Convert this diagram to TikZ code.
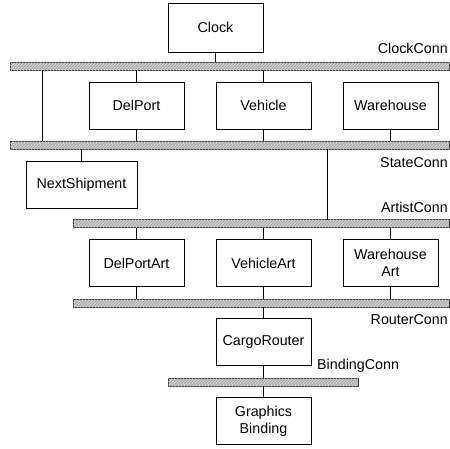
\documentclass[tikz,border=0pt]{standalone}
\usepackage{fontspec}
\setmainfont{Liberation Sans}
\usetikzlibrary{patterns}
\begin{document}
\begin{tikzpicture}[x=1pt,y=-1pt,
  comp/.style={draw, line width=0.8pt, minimum width=95, minimum height=47, align=center, font=\fontsize{14.3}{17}\selectfont},
  conn/.style={draw=black!75, line width=0.8pt, fill=gray!40, postaction={pattern=north east lines, pattern color=gray!75}, minimum height=8, inner sep=0pt},
  lbl/.style={font=\fontsize{14.3}{17}\selectfont, inner sep=0pt},
  wire/.style={draw, line width=0.8pt}]
\useasboundingbox (0,0) rectangle (450,448);
% components
\node[comp, minimum height=49] (clock) at (215.5,27.5) {Clock};
\node[comp] (delport) at (136.5,105.5) {DelPort};
\node[comp] (vehicle) at (263.5,105.5) {Vehicle};
\node[comp] (warehouse) at (390.5,105.5) {Warehouse};
\node[comp, minimum width=111] (nextship) at (81.5,184.5) {NextShipment};
\node[comp] (delportart) at (136.5,263) {DelPortArt};
\node[comp] (vehicleart) at (263.5,263) {VehicleArt};
\node[comp] (warehouseart) at (390.5,263) {Warehouse\\Art};
\node[comp] (router) at (263.5,342) {CargoRouter};
\node[comp] (binding) at (263.5,421) {Graphics\\Binding};
% connectors
\node[conn, minimum width=439] (clockconn) at (229.5,66) {};
\node[conn, minimum width=439] (stateconn) at (229.5,145) {};
\node[conn, minimum width=376] (artistconn) at (261,223.5) {};
\node[conn, minimum width=376] (routerconn) at (261,303) {};
\node[conn, minimum width=190] (bindingconn) at (263,382) {};
\node[lbl, anchor=east] (clocklbl) at (448,48) {ClockConn};
\node[lbl, anchor=east] (statelbl) at (448,163) {StateConn};
\node[lbl, anchor=east] (artistlbl) at (448,207) {ArtistConn};
\node[lbl, anchor=east] (routerlbl) at (448,320) {RouterConn};
\node[lbl, anchor=west] (bindinglbl) at (317,366) {BindingConn};
\coordinate (lefttop) at (42,70);
\coordinate (leftbot) at (42,141);
\coordinate (midtop) at (327,149);
\coordinate (midbot) at (327,219.5);
% links
\path[wire] (clock) -- (clock |- clockconn.north);
\path[wire] (lefttop) -- (leftbot);
\path[wire] (delport) -- (delport |- clockconn.south);
\path[wire] (vehicle) -- (vehicle |- clockconn.south);
\path[wire] (delport) -- (delport |- stateconn.north);
\path[wire] (vehicle) -- (vehicle |- stateconn.north);
\path[wire] (warehouse) -- (warehouse |- stateconn.north);
\path[wire] (nextship) -- (nextship |- stateconn.south);
\path[wire] (midtop) -- (midbot);
\path[wire] (delportart) -- (delportart |- artistconn.south);
\path[wire] (vehicleart) -- (vehicleart |- artistconn.south);
\path[wire] (warehouseart) -- (warehouseart |- artistconn.south);
\path[wire] (delportart) -- (delportart |- routerconn.north);
\path[wire] (vehicleart) -- (vehicleart |- routerconn.north);
\path[wire] (warehouseart) -- (warehouseart |- routerconn.north);
\path[wire] (router) -- (router |- routerconn.south);
\path[wire] (router) -- (router |- bindingconn.north);
\path[wire] (binding) -- (binding |- bindingconn.south);
\end{tikzpicture}
\end{document}
